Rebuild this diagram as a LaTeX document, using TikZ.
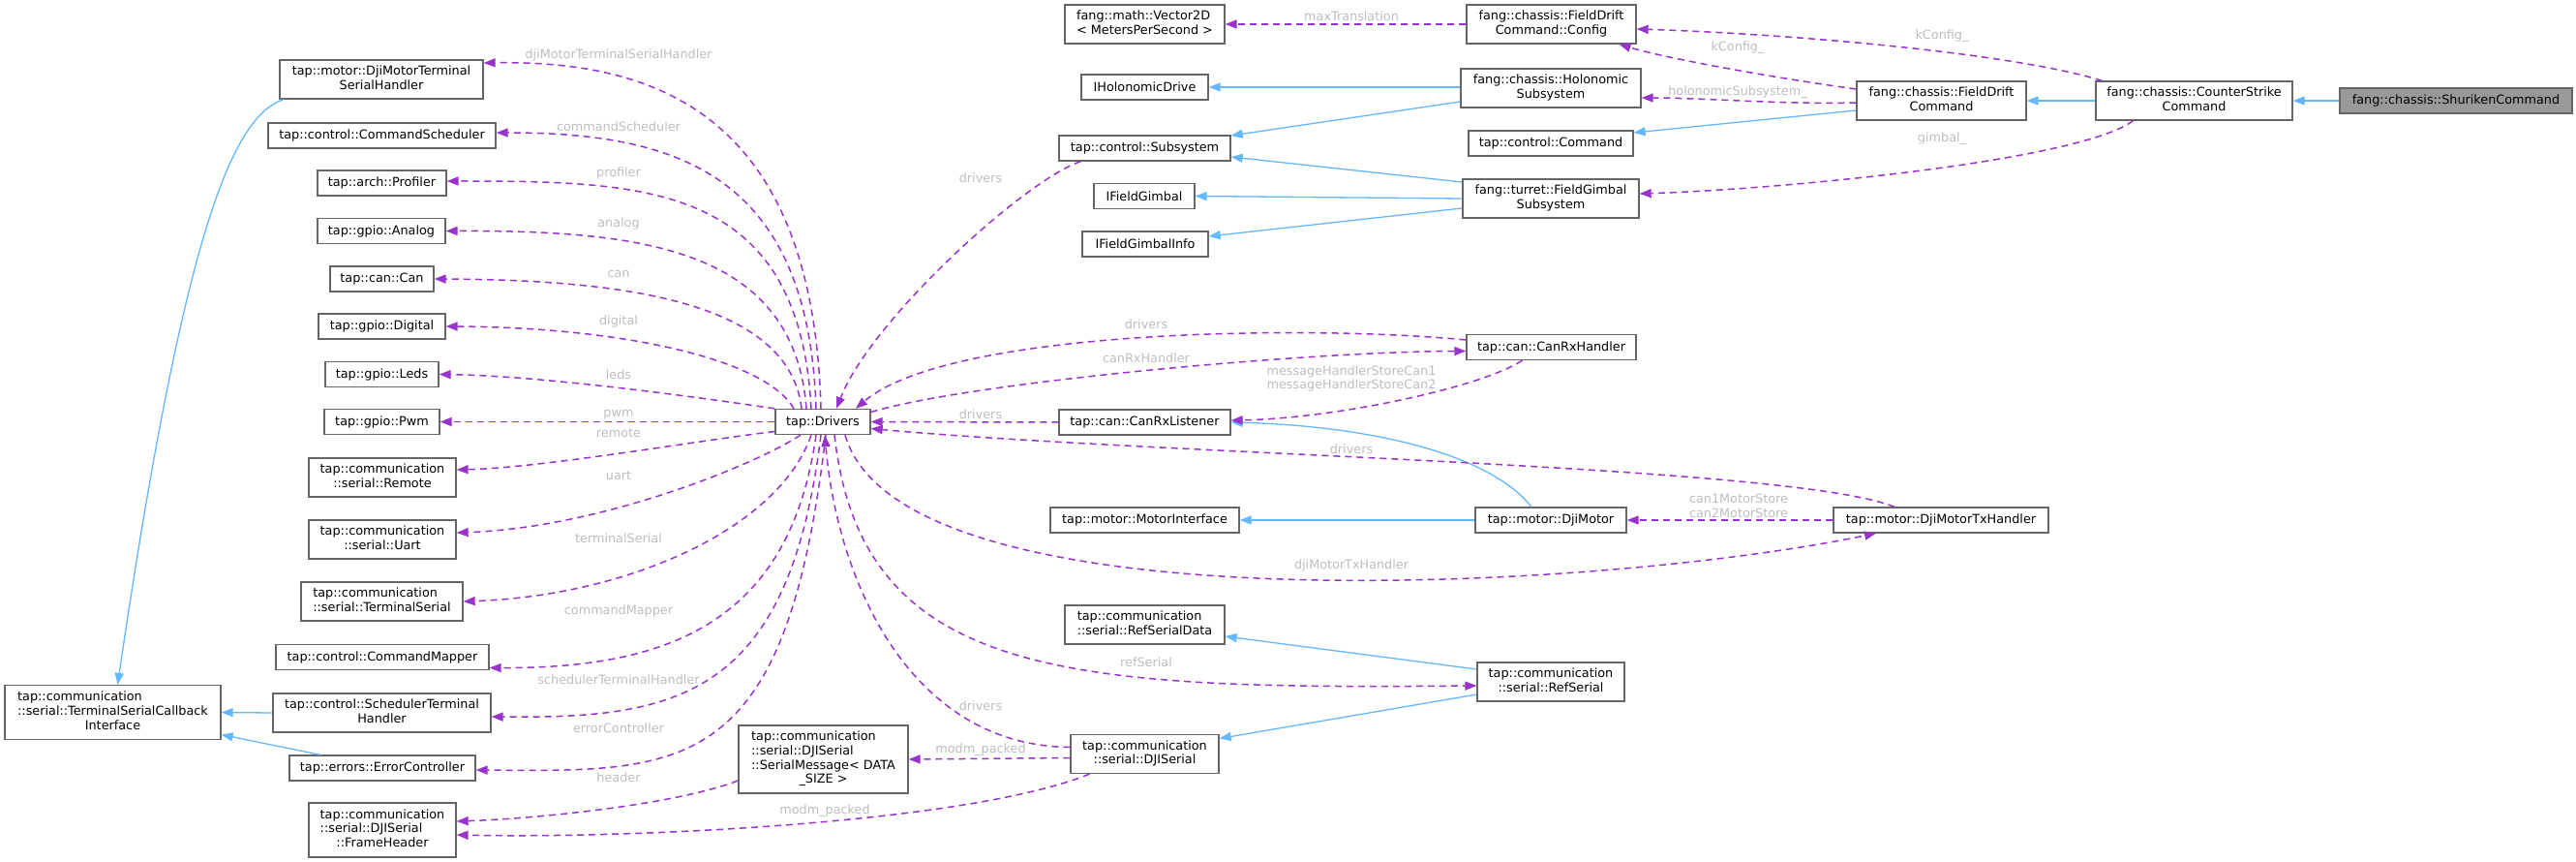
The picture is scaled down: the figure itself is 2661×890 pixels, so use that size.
\documentclass[tikz,border=0pt]{standalone}
\usepackage{fontspec}
\setmainfont{DejaVu Sans}
\usepackage{xcolor}
\definecolor{inhblue}{HTML}{63B8FF}
\definecolor{usepurple}{HTML}{9A32CD}
\definecolor{lblgray}{HTML}{BEBEBE}
\definecolor{boxgray}{HTML}{666666}
\definecolor{curgray}{HTML}{999999}
\usepackage{tikz}
\usetikzlibrary{arrows.meta}
\newcommand{\dfont}{\fontsize{12.8pt}{14.7pt}\selectfont}
\newcommand{\clsname}[2]{\begin{tabular}{@{}l@{}}#1\\\multicolumn{1}{@{}c@{}}{#2}\end{tabular}}

\begin{document}
\begin{tikzpicture}[x=1pt, y=-1pt,
      box/.style={draw=boxgray, line width=1.3pt, fill=white, font=\dfont, inner sep=0pt, minimum height=26pt},
      box2/.style={box, minimum height=40pt},
      box3/.style={box, minimum height=56pt},
      box4/.style={box, minimum height=70pt},
      current/.style={box, fill=curgray},
      inheritance/.style={draw=inhblue, line width=1.3pt, -{Triangle[length=12pt, width=9pt]}},
      usage/.style={draw=usepurple, line width=1.5pt, dash pattern=on 7pt off 5pt, -{Triangle[length=12pt, width=9pt]}},
      lbl/.style={text=lblgray, font=\dfont, inner sep=0pt, align=center}
    ]
    \useasboundingbox[fill=white] (0,0) rectangle (2661,890);

    \node[current, minimum width=240pt] (shuriken) at (2537,104) {fang::chassis::ShurikenCommand};
    \node[box2, minimum width=203pt] (counterStrike) at (2266.5,104) {\clsname{fang::chassis::CounterStrike}{Command}};
    \node[box2, minimum width=175pt] (fieldDrift) at (2005.5,104) {\clsname{fang::chassis::FieldDrift}{Command}};
    \node[box2, minimum width=175pt] (driftConfig) at (1602.5,25) {\clsname{fang::chassis::FieldDrift}{Command::Config}};
    \node[box2, minimum width=186pt] (holonomic) at (1602,91) {\clsname{fang::chassis::Holonomic}{Subsystem}};
    \node[box, minimum width=170pt] (command) at (1602,148) {tap::control::Command};
    \node[box2, minimum width=182pt] (gimbalSub) at (1602,205) {\clsname{fang::turret::FieldGimbal}{Subsystem}};
    \node[box, minimum width=175pt] (canRxHandler) at (1602.5,358.5) {tap::can::CanRxHandler};
    \node[box, minimum width=156pt] (djiMotor) at (1602,537) {tap::motor::DjiMotor};
    \node[box, minimum width=222pt] (txHandler) at (2005,537) {tap::motor::DjiMotorTxHandler};
    \node[box2, minimum width=152pt] (refSerial) at (1602,704) {\clsname{tap::communication}{::serial::RefSerial}};

    \node[box2, minimum width=165pt] (vector2d) at (1182.5,25) {\clsname{fang::math::Vector2D}{< MetersPerSecond >}};
    \node[box, minimum width=131pt] (iHolo) at (1182.5,90) {IHolonomicDrive};
    \node[box, minimum width=177pt] (subsystem) at (1182.5,153) {tap::control::Subsystem};
    \node[box, minimum width=104pt] (iGimbal) at (1182,202.5) {IFieldGimbal};
    \node[box, minimum width=130pt] (iGimbalInfo) at (1183,252) {IFieldGimbalInfo};
    \node[box, minimum width=177pt] (canRxListener) at (1182.5,436) {tap::can::CanRxListener};
    \node[box, minimum width=195pt] (motorIface) at (1182.5,537) {tap::motor::MotorInterface};
    \node[box2, minimum width=165pt] (refSerialData) at (1182.5,645) {\clsname{tap::communication}{::serial::RefSerialData}};
    \node[box2, minimum width=153pt] (djiSerial) at (1182.5,778.5) {\clsname{tap::communication}{::serial::DJISerial}};

    \node[box, minimum width=98pt] (drivers) at (850,435.5) {tap::Drivers};
    \node[box4, minimum width=175pt] (serialMessage) at (850.5,784) {\clsname{tap::communication\\::serial::DJISerial\\::SerialMessage< DATA}{\_SIZE >}};

    \node[box2, minimum width=210pt] (djiTerm) at (394,82) {\clsname{tap::motor::DjiMotorTerminal}{SerialHandler}};
    \node[box, minimum width=235pt] (cmdSched) at (394.5,140) {tap::control::CommandScheduler};
    \node[box, minimum width=133pt] (profiler) at (394.5,189) {tap::arch::Profiler};
    \node[box, minimum width=132pt] (analog) at (394,238.5) {tap::gpio::Analog};
    \node[box, minimum width=107pt] (can) at (394.5,288) {tap::can::Can};
    \node[box, minimum width=131pt] (digital) at (394.5,337) {tap::gpio::Digital};
    \node[box, minimum width=117pt] (leds) at (394.5,386.5) {tap::gpio::Leds};
    \node[box, minimum width=119pt] (pwm) at (394.5,435.5) {tap::gpio::Pwm};
    \node[box2, minimum width=152pt] (remote) at (395,493) {\clsname{tap::communication}{::serial::Remote}};
    \node[box2, minimum width=152pt] (uart) at (395,557) {\clsname{tap::communication}{::serial::Uart}};
    \node[box2, minimum width=167pt] (termSerial) at (394.5,621) {\clsname{tap::communication}{::serial::TerminalSerial}};
    \node[box, minimum width=220pt] (cmdMapper) at (395,678.5) {tap::control::CommandMapper};
    \node[box2, minimum width=225pt] (schedHandler) at (394.5,736) {\clsname{tap::control::SchedulerTerminal}{Handler}};
    \node[box, minimum width=192pt] (errorCtrl) at (395,793) {tap::errors::ErrorController};
    \node[box3, minimum width=152pt] (frameHeader) at (395,857) {\clsname{tap::communication\\::serial::DJISerial}{::FrameHeader}};
    \node[box3, minimum width=223pt] (cbIface) at (116.5,735.5) {\clsname{tap::communication\\::serial::TerminalSerialCallback}{Interface}};

    \draw[inheritance] (shuriken.west) -- (counterStrike.east);
    \draw[inheritance] (counterStrike.west) -- (fieldDrift.east);
    \draw[inheritance] ([shift={(0,10)}]fieldDrift.west) -- ([shift={(0,-11)}]command.east);
    \draw[inheritance] ([shift={(0,-1)}]holonomic.west) -- (iHolo.east);
    \draw[inheritance] ([shift={(0,14)}]holonomic.west) -- ([shift={(0,-13)}]subsystem.east);
    \draw[inheritance] ([shift={(0,-17)}]gimbalSub.west) -- ([shift={(0,9)}]subsystem.east);
    \draw[inheritance] (gimbalSub.west) -- (iGimbal.east);
    \draw[inheritance] ([shift={(0,10)}]gimbalSub.west) -- ([shift={(0,-8)}]iGimbalInfo.east);
    \draw[inheritance] (djiMotor.west) -- (motorIface.east);
    \draw[inheritance] ([shift={(-20,0)}]djiMotor.north) .. controls (1540,470) and (1420,440) .. (canRxListener.east);
    \draw[inheritance] ([shift={(0,-13)}]refSerial.west) -- ([shift={(0,12)}]refSerialData.east);
    \draw[inheritance] ([shift={(0,13)}]refSerial.west) -- ([shift={(0,-16)}]djiSerial.east);
    \draw[inheritance] ([shift={(-101,0)}]djiTerm.south) .. controls (240,120) and (190,240) .. ([shift={(5,0)}]cbIface.north);
    \draw[inheritance] (schedHandler.west) -- (cbIface.east);
    \draw[inheritance] ([shift={(-64,0)}]errorCtrl.north) -- ([shift={(0,23)}]cbIface.east);

    \draw[usage] (driftConfig.west) -- (vector2d.east) node[lbl] at (1396,17) {maxTranslation};
    \draw[usage] ([shift={(-95,0)}]counterStrike.north) .. controls (2080,55) and (1850,35) .. ([shift={(0,5)}]driftConfig.east) node[lbl] at (2006,37) {kConfig\_};
    \draw[usage] ([shift={(0,-12)}]fieldDrift.west) .. controls (1830,80) and (1720,60) .. ([shift={(70,0)}]driftConfig.south) node[lbl] at (1795,49) {kConfig\_};
    \draw[usage] ([shift={(0,2)}]fieldDrift.west) .. controls (1840,108) and (1760,101) .. ([shift={(0,10)}]holonomic.east) node[lbl] at (1795,95) {holonomicSubsystem\_};
    \draw[usage] ([shift={(-63,0)}]counterStrike.south) .. controls (2150,165) and (1850,195) .. ([shift={(0,-5)}]gimbalSub.east) node[lbl] at (2006,143) {gimbal\_};
    \draw[usage] ([shift={(-66,0)}]subsystem.south) .. controls (1060,185) and (900,330) .. ([shift={(14,0)}]drivers.north) node[lbl] at (1013,184) {drivers};
    \draw[usage] ([shift={(0,-7.5)}]canRxHandler.west) .. controls (1350,335) and (980,340) .. ([shift={(34,0)}]drivers.north) node[lbl] at (1184,335) {drivers};
    \draw[usage] ([shift={(0,-10)}]drivers.east) .. controls (1000,395) and (1350,363) .. ([shift={(0,4)}]canRxHandler.west) node[lbl] at (1184,370) {canRxHandler};
    \draw[usage] ([shift={(-30,0)}]canRxHandler.south) .. controls (1530,400) and (1380,432) .. ([shift={(0,-2)}]canRxListener.east) node[lbl] at (1396,391) {messageHandlerStoreCan1\\messageHandlerStoreCan2};
    \draw[usage] (canRxListener.west) -- (drivers.east) node[lbl] at (1013,428) {drivers};
    \draw[usage] ([shift={(-48,0)}]txHandler.north) .. controls (1850,480) and (1200,470) .. ([shift={(0,7)}]drivers.east) node[lbl] at (1396,464) {drivers};
    \draw[usage] (txHandler.west) -- (djiMotor.east) node[lbl] at (1796,522) {can1MotorStore\\can2MotorStore};
    \draw[usage] ([shift={(23,0)}]drivers.south) .. controls (930,650) and (1650,610) .. ([shift={(-67,0)}]txHandler.south) node[lbl] at (1396,584) {djiMotorTxHandler};
    \draw[usage] ([shift={(12,0)}]drivers.south) .. controls (890,700) and (1100,712) .. ([shift={(0,4)}]refSerial.west) node[lbl] at (1184,684) {refSerial};
    \draw[usage] ([shift={(0,-7)}]djiSerial.west) .. controls (940,770) and (865,600) .. ([shift={(2,0)}]drivers.south) node[lbl] at (1013,729) {drivers};
    \draw[usage] ([shift={(0,4)}]djiSerial.west) -- (serialMessage.east) node[lbl] at (1013,774) {modm\_packed};
    \draw[usage] ([shift={(-57,0)}]djiSerial.south) .. controls (1000,850) and (650,866) .. ([shift={(0,5)}]frameHeader.east) node[lbl] at (852,837) {modm\_packed};
    \draw[usage] ([shift={(0,22)}]serialMessage.west) .. controls (700,830) and (560,845) .. ([shift={(0,-9)}]frameHeader.east) node[lbl] at (639,803) {header};

    \draw[usage] ([shift={(-2,0)}]drivers.north) .. controls (840,120) and (680,62) .. ([shift={(0,-17)}]djiTerm.east) node[lbl] at (639,57) {djiMotorTerminalSerialHandler};
    \draw[usage] ([shift={(-7,0)}]drivers.north) .. controls (835,180) and (700,137) .. ([shift={(0,-3)}]cmdSched.east) node[lbl] at (639,131) {commandScheduler};
    \draw[usage] ([shift={(-12,0)}]drivers.north) .. controls (825,190) and (670,187) .. ([shift={(0,-2)}]profiler.east) node[lbl] at (639,179) {profiler};
    \draw[usage] ([shift={(-17,0)}]drivers.north) .. controls (820,255) and (660,238) .. (analog.east) node[lbl] at (639,231) {analog};
    \draw[usage] ([shift={(-22,0)}]drivers.north) .. controls (815,310) and (640,289) .. (can.east) node[lbl] at (639,283) {can};
    \draw[usage] ([shift={(-30,0)}]drivers.north) .. controls (790,370) and (640,338) .. (digital.east) node[lbl] at (639,332) {digital};
    \draw[usage] (drivers.north west) .. controls (720,410) and (560,388) .. (leds.east) node[lbl] at (639,387) {leds};
    \draw[usage] (drivers.west) -- (pwm.east) node[lbl] at (639,428) {pwm};
    \draw[usage] ([shift={(0,10)}]drivers.west) .. controls (720,455) and (560,483) .. ([shift={(0,-8)}]remote.east) node[lbl] at (639,447) {remote};
    \draw[usage] ([shift={(-23,0)}]drivers.south) .. controls (780,480) and (620,545) .. ([shift={(0,-7)}]uart.east) node[lbl] at (639,491) {uart};
    \draw[usage] ([shift={(-12,0)}]drivers.south) .. controls (805,545) and (650,615) .. (termSerial.east) node[lbl] at (639,556) {terminalSerial};
    \draw[usage] ([shift={(-7,0)}]drivers.south) .. controls (815,650) and (680,690) .. ([shift={(0,11)}]cmdMapper.east) node[lbl] at (639,631) {commandMapper};
    \draw[usage] ([shift={(-2,0)}]drivers.south) .. controls (815,720) and (700,742) .. ([shift={(0,4)}]schedHandler.east) node[lbl] at (639,702) {schedulerTerminalHandler};
    \draw[usage] ([shift={(3,0)}]drivers.south) .. controls (812,800) and (710,797) .. ([shift={(0,2)}]errorCtrl.east) node[lbl] at (639,752) {errorController};
  \end{tikzpicture}
\end{document}
